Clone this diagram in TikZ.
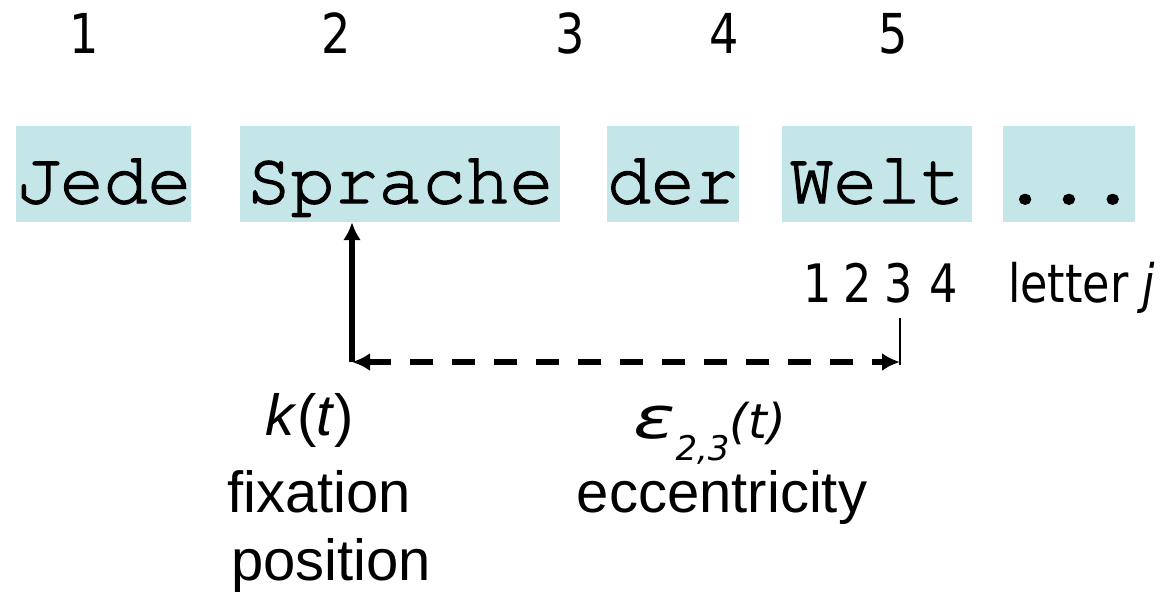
\documentclass[tikz,border=0pt]{standalone}
\usepackage{fontspec}
\usepackage{tikz}
\setmainfont{Liberation Sans}
\newfontfamily\wordfont[FakeBold=2]{TeX Gyre Cursor}
\newfontfamily\narrowfont[FakeStretch=0.84]{DejaVu Sans}
\newfontfamily\letterfont{DejaVu Sans}
\usetikzlibrary{arrows.meta}
\definecolor{wordbg}{RGB}{196,230,232}
\tikzstyle{arrow} = [line width=5.5pt,-{Latex[length=18pt,width=18pt]}]
\tikzstyle{dasharrow} = [line width=5.5pt,dash pattern=on 23pt off 19pt,{Latex[length=18pt,width=18pt]}-{Latex[length=18pt,width=18pt]}]

\begin{document}
\begin{tikzpicture}[x=1pt,y=-1pt,every node/.style={inner sep=0pt},
    word/.style={fill=wordbg,anchor=base west,text height=77pt,text depth=19pt,font=\wordfont\fontsize{73}{73}\selectfont},
    idx/.style={anchor=base,font=\narrowfont\fontsize{55}{55}\selectfont},
    letnum/.style={anchor=base,font=\narrowfont\fontsize{53}{53}\selectfont},
    capt/.style={anchor=base,font=\fontsize{58}{58}\selectfont}]
    \useasboundingbox (0,0) rectangle (1168,592);

    % Word numbers
    \foreach \x/\n in {84/1,336/2,570/3,724/4,893/5}
        \node[idx] (i\n) at (\x,53) {\n};

    % Sentence
    \node[word] (jede) at (16,203) {Jede};
    \node[word,minimum width=320pt] (sprache) at (240,203) {Sprache};
    \node[word] (der) at (607,203) {der};
    \node[word,minimum width=190pt] (welt) at (782,203) {Welt};
    \node[word] (dots) at (1003,203) {...};

    % Letter numbers
    \foreach \x/\n in {818/1,858/2,899/3,944/4}
        \node[letnum] (p\n) at (\x,302) {\n};
    \node[letnum,anchor=base west] (letter) at (1008,302) {letter \textit{j}};

    % Fixation and eccentricity
    \coordinate (fix) at (352,362);
    \coordinate (ecc) at (900,362);
    \draw[arrow] (fix) -- (fix |- sprache.south);
    \draw[dasharrow] (fix) -- (ecc);
    \draw[line width=2pt] (ecc) ++(0,3) -- ++(0,-47);

    % Labels
    \node[capt] (kt) at (310,435) {\textit{k}(\textit{t})};
    \node[anchor=base west,font=\letterfont\itshape] (eps) at (633,438)
        {\fontsize{58}{58}\selectfont\scalebox{1.35}[1]{ε}\raisebox{-22pt}{\fontsize{34}{34}\selectfont 2,3}\fontsize{48}{48}\selectfont(t)};
    \node[capt] (fixation) at (319,512) {fixation};
    \node[capt] (position) at (331,580) {position};
    \node[capt] (eccentricity) at (722,512) {eccentricity};
\end{tikzpicture}
\end{document}
